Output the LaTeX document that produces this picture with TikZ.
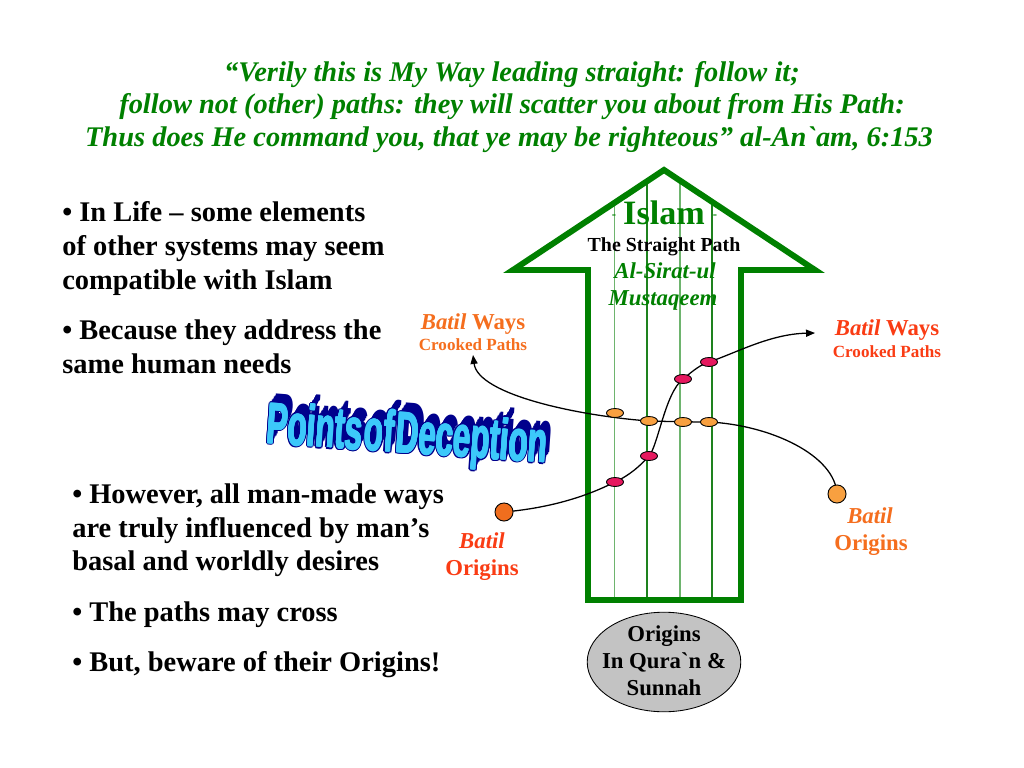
\documentclass[tikz,border=0pt]{standalone}
\usepackage{fontspec}
\newfontfamily\lserif{Liberation Serif}
\newfontfamily\lsans{Liberation Sans}
\usetikzlibrary{arrows.meta,shapes.geometric,calc}
\newlength\pxu
\setlength\pxu{0.703125pt}
\definecolor{tgreen}{RGB}{0,128,0}
\definecolor{lgreen}{RGB}{110,180,110}
\definecolor{dgreen}{RGB}{30,130,30}
\definecolor{borange}{RGB}{245,110,30}
\definecolor{bred}{RGB}{250,60,20}
\definecolor{lorange}{RGB}{248,160,64}
\definecolor{dorange}{RGB}{240,110,30}
\definecolor{pinkc}{RGB}{230,25,95}
\definecolor{grayc}{RGB}{195,195,195}
\definecolor{wablue}{RGB}{60,200,250}
\definecolor{wanavy}{RGB}{0,0,140}
\newcommand\watxt{\scalebox{1}[1.85]{\lsans\bfseries\fontsize{22}{22}\selectfont\spaceskip=1.5pt\relax Points of Deception}}
\begin{document}
\begin{tikzpicture}[x=\pxu,y=-\pxu,
  title/.style={font=\lserif\bfseries\itshape\fontsize{20}{24}\selectfont, text=tgreen, anchor=base, inner sep=0},
  body/.style={font=\lserif\bfseries\fontsize{20}{24}\selectfont, anchor=base west, inner sep=0},
  lbl/.style={font=\lserif\bfseries\fontsize{16}{19}\selectfont, anchor=base, inner sep=0},
  sublbl/.style={font=\lserif\bfseries\fontsize{12}{14}\selectfont, anchor=base, inner sep=0},
  arrowline/.style={draw=tgreen, line width=4.2pt, line join=miter},
  bpath/.style={draw=black, line width=0.9pt, -{Triangle[length=6.3pt,width=5pt]}},
  pinkdot/.style={ellipse, draw=black, line width=0.6pt, fill=pinkc, minimum width=12pt, minimum height=6.3pt, inner sep=0},
  orangedot/.style={ellipse, draw=black, line width=0.6pt, fill=lorange, minimum width=12pt, minimum height=6.3pt, inner sep=0},
  origin/.style={circle, draw=black, line width=0.65pt, minimum size=12.7pt, inner sep=0},
  wa/.style={inner sep=0, rotate=-4}
]
\useasboundingbox (0,0) rectangle (1024,768);
\fill[white] (0,0) rectangle (1024,768);

% title
\node[title] (t1) at (512,82) {“Verily this is My Way leading straight: follow it;};
\node[title] (t2) at (512,114) {follow not (other) paths: they will scatter you about from His Path:};
\node[title] (t3) at (509,147) {Thus does He command you, that ye may be righteous” al-An`am, 6:153};

% left text
\node[body] (a1) at (62,222) {• In Life – some elements};
\node[body] (a2) at (62,256) {of other systems may seem};
\node[body] (a3) at (62,289) {compatible with Islam};
\node[body] (b1) at (62,339) {• Because they address the};
\node[body] (b2) at (62,373) {same human needs};
\node[body] (c1) at (72,503) {• However, all man-made ways};
\node[body] (c2) at (72,537) {are truly influenced by man’s};
\node[body] (c3) at (72,570) {basal and worldly desires};
\node[body] (d1) at (72,621) {• The paths may cross};
\node[body] (e1) at (72,671) {• But, beware of their Origins!};

% arrow
\coordinate (tip) at (664,170);
\coordinate (rw) at (815,270);
\coordinate (ri) at (741,270);
\coordinate (rb) at (741,600);
\coordinate (lb) at (588,600);
\coordinate (li) at (588,270);
\coordinate (lw) at (513,270);
\begin{scope}
\clip (tip) -- (rw) -- (ri) -- (rb) -- (lb) -- (li) -- (lw) -- cycle;
\draw[lgreen, line width=1.1pt] (614.5,150) -- (614.5,610);
\draw[dgreen, line width=1.1pt] (647,150) -- (647,610);
\draw[lgreen, line width=1.1pt] (680,150) -- (680,610);
\draw[dgreen, line width=1.1pt] (712,150) -- (712,610);
\end{scope}
\draw[arrowline] (tip) -- (rw) -- (ri) -- (rb) -- (lb) -- (li) -- (lw) -- cycle;

% arrow texts
\node[font=\lserif\bfseries\fontsize{24}{28}\selectfont, text=tgreen, anchor=base, inner sep=0] (islam) at (664,225) {Islam};
\node[font=\lserif\bfseries\fontsize{9}{10}\selectfont, text=tgreen, anchor=base, inner sep=0] (dl) at (614,219) {-};
\node[font=\lserif\bfseries\fontsize{9}{10}\selectfont, text=tgreen, anchor=base, inner sep=0] (dr) at (715,219) {-};
\node[font=\lserif\bfseries\fontsize{14}{16}\selectfont, anchor=base, inner sep=0] (sp) at (664,252) {The Straight Path};
\node[font=\lserif\bfseries\itshape\fontsize{16}{19}\selectfont, text=tgreen, anchor=base, inner sep=0] (as1) at (665,279) {Al-Sirat-ul};
\node[font=\lserif\bfseries\itshape\fontsize{16}{19}\selectfont, text=tgreen, anchor=base, inner sep=0] (as2) at (663,305) {Mustaqeem};

% path coordinates
\coordinate (lc) at (504,512);
\coordinate (rc) at (837,494);
\coordinate (p1) at (615,482);
\coordinate (p2) at (649,456);
\coordinate (p3) at (683,379);
\coordinate (p4) at (709,362);
\coordinate (o1) at (615,413);
\coordinate (o2) at (649,421);
\coordinate (o3) at (683,422);
\coordinate (o4) at (709,422);
\coordinate (pinkend) at (815,333);
\coordinate (orangeend) at (473,355);

\draw[bpath] (lc) .. controls (560,507) and (595,492) .. (p1)
  .. controls (630,475) and (640,466) .. (p2)
  .. controls (658,446) and (665,393) .. (p3)
  .. controls (694,370) and (700,365) .. (p4)
  .. controls (736,353) and (770,334) .. (pinkend);
\draw[bpath] (rc) .. controls (835,455) and (770,425) .. (o4)
  .. controls (690,422) and (670,421.5) .. (o2)
  .. controls (580,416) and (478,395) .. (orangeend);

\node[pinkdot] (pd1) at (p1) {};
\node[pinkdot] (pd2) at (p2) {};
\node[pinkdot] (pd3) at (p3) {};
\node[pinkdot] (pd4) at (p4) {};
\node[orangedot] (od1) at (o1) {};
\node[orangedot] (od2) at (o2) {};
\node[orangedot] (od3) at (o3) {};
\node[orangedot] (od4) at (o4) {};
\node[origin, fill=dorange] (lcirc) at (lc) {};
\node[origin, fill=lorange] (rcirc) at (rc) {};

% labels
\node[lbl, text=borange] (lw1) at (473,329) {\itshape Batil\upshape{} Ways};
\node[sublbl, text=borange] (lw2) at (473,350) {Crooked Paths};
\node[lbl, text=bred] (rw1) at (887,335) {\itshape Batil\upshape{} Ways};
\node[sublbl, text=bred] (rw2) at (887,357) {Crooked Paths};
\node[lbl, text=bred] (lo1) at (482,548) {\itshape Batil};
\node[lbl, text=bred] (lo2) at (482,575) {Origins};
\node[lbl, text=borange] (ro1) at (870,523) {\itshape Batil};
\node[lbl, text=borange] (ro2) at (871,550) {Origins};

% origins ellipse
\node[ellipse, draw=black, line width=0.6pt, fill=grayc, minimum width=108pt, minimum height=70pt] (orig) at (664,662) {};
\node[lbl] (or1) at (664,641) {Origins};
\node[lbl] (or2) at (664,668) {In Qura`n \&};
\node[lbl] (or3) at (664,695) {Sunnah};

% word art: extruded shadow, outline, face
\foreach \k in {1,...,6} {
  \node[wa, text=wanavy] (wx\k) at ($(407,438)+(\k,-1.6*\k)$) {\watxt};
}
\foreach \a in {0,30,...,330} {
  \node[wa, text=wanavy] (wao\a) at ($(407,438)+(\a:1.2pt)$) {\watxt};
}
\foreach \a in {0,60,...,300} {
  \node[wa, text=wablue] (wab\a) at ($(407,438)+(\a:0.35pt)$) {\watxt};
}
\node[wa, text=wablue] (wafront) at (407,438) {\watxt};
\end{tikzpicture}
\end{document}
